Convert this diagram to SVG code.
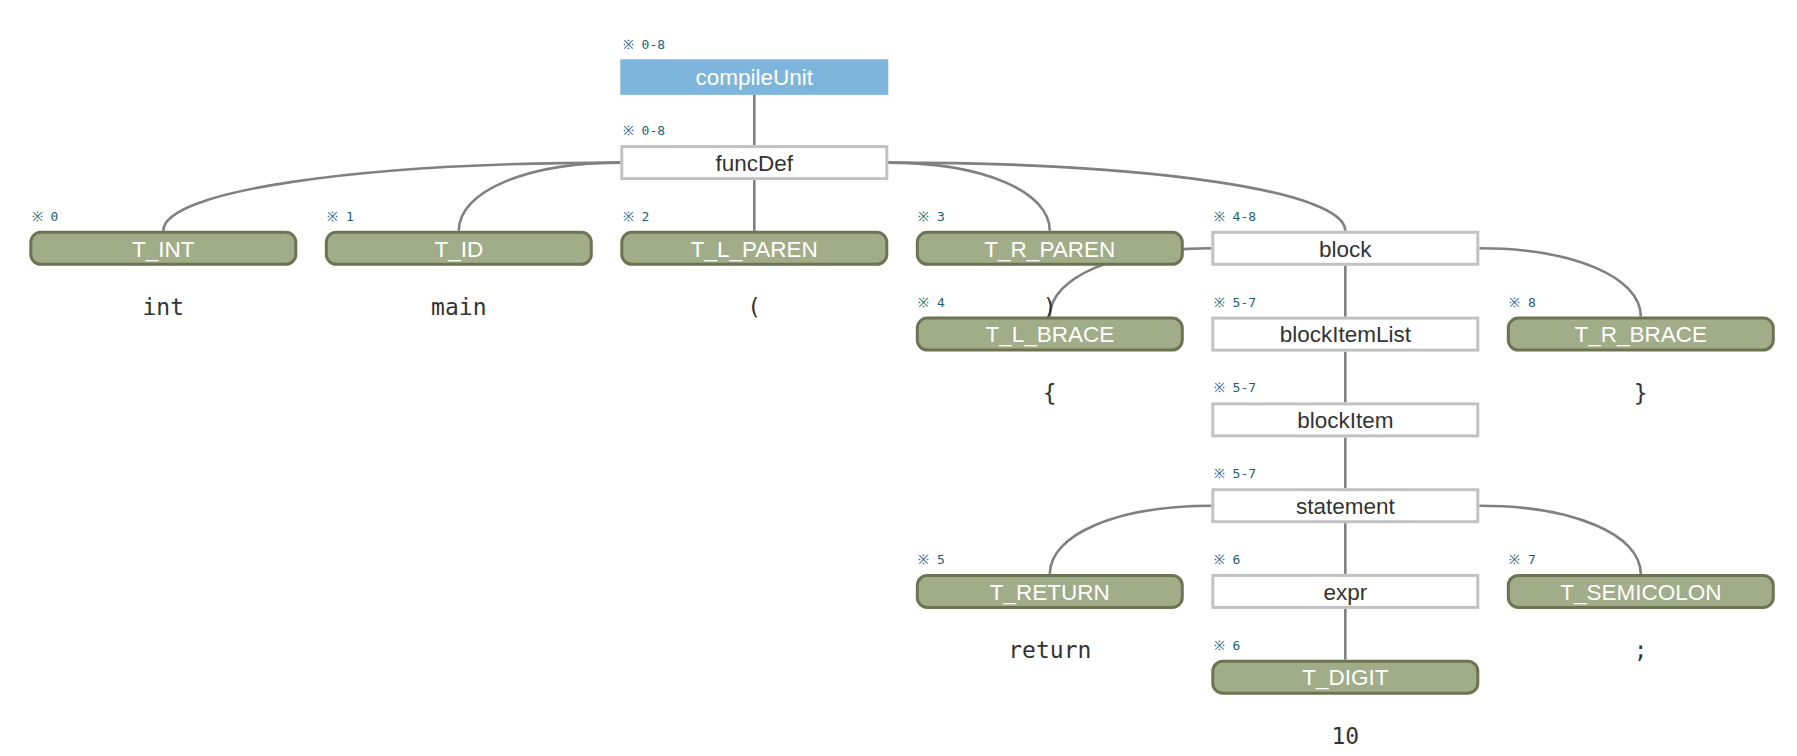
<svg xmlns="http://www.w3.org/2000/svg" width="1797" height="756" viewBox="0 0 1797 756">
<style>
.bg{fill:#ffffff}
.edge{fill:none;stroke:#808080;stroke-width:2.6}
.root rect{fill:#7db5dc}
.rule rect{fill:#ffffff;stroke:#c2c2c2;stroke-width:3}
.tok rect{fill:#a1ac89;stroke:#6e7353;stroke-width:3}
.lbl{font-family:"Liberation Sans",Arial,sans-serif;font-size:22.5px;text-anchor:middle}
.root .lbl,.tok .lbl{fill:#ffffff}
.rule .lbl{fill:#333333}
.rng{font-family:"DejaVu Sans Mono","Liberation Mono",monospace;font-size:13px;fill:#1d5e7b}
.leaf{font-family:"DejaVu Sans Mono","Liberation Mono",monospace;font-size:23px;fill:#333333;text-anchor:middle}
</style>
<rect class="bg" x="0" y="0" width="1797" height="756"/>
<g id="connectors">
<path class="edge" d="M754.3 94.8 V145.1"/>
<path class="edge" d="M620.3 162.6 C355.2 162.6 163.3 191.2 163.3 230.8"/>
<path class="edge" d="M620.3 162.6 C526.6 162.6 458.8 191.2 458.8 230.8"/>
<path class="edge" d="M754.3 180.1 V230.8"/>
<path class="edge" d="M888.3 162.6 C982 162.6 1049.8 191.2 1049.8 230.8"/>
<path class="edge" d="M888.3 162.6 C1153.4 162.6 1345.3 191.2 1345.3 230.8"/>
<path class="edge" d="M1211.3 248.3 C1117.6 248.3 1049.8 277 1049.8 316.6"/>
<path class="edge" d="M1345.3 265.8 V316.6"/>
<path class="edge" d="M1479.3 248.3 C1573 248.3 1640.8 277 1640.8 316.6"/>
<path class="edge" d="M1345.3 351.6 V402.4"/>
<path class="edge" d="M1345.3 437.4 V488.2"/>
<path class="edge" d="M1211.3 505.7 C1117.6 505.7 1049.8 534.3 1049.8 573.9"/>
<path class="edge" d="M1345.3 523.2 V573.9"/>
<path class="edge" d="M1479.3 505.7 C1573 505.7 1640.8 534.3 1640.8 573.9"/>
<path class="edge" d="M1345.3 608.9 V659.7"/>
</g>
<g id="leaves">
<text class="leaf" x="163.3" y="314.8">int</text>
<text class="leaf" x="458.8" y="314.8">main</text>
<text class="leaf" x="754.3" y="314.8">(</text>
<text class="leaf" x="1049.8" y="314.8">)</text>
<text class="leaf" x="1049.8" y="400.6">{</text>
<text class="leaf" x="1640.8" y="400.6">}</text>
<text class="leaf" x="1049.8" y="657.9">return</text>
<text class="leaf" x="1640.8" y="657.9">;</text>
<text class="leaf" x="1345.3" y="743.7">10</text>
</g>
<g id="n-compileUnit" class="root">
<text class="rng" x="622.8" y="49.3">※ 0-8</text>
<rect x="620.3" y="59.3" width="268" height="35.5"/>
<text class="lbl" x="754.3" y="84.8">compileUnit</text>
</g>
<g id="n-funcDef" class="rule">
<text class="rng" x="622.8" y="135.1">※ 0-8</text>
<rect x="621.8" y="146.6" width="265" height="32"/>
<text class="lbl" x="754.3" y="170.7">funcDef</text>
</g>
<g id="n-T_INT" class="tok">
<text class="rng" x="31.8" y="220.8">※ 0</text>
<rect x="30.8" y="232.3" width="265" height="32" rx="10"/>
<text class="lbl" x="163.3" y="256.5">T_INT</text>
</g>
<g id="n-T_ID" class="tok">
<text class="rng" x="327.3" y="220.8">※ 1</text>
<rect x="326.3" y="232.3" width="265" height="32" rx="10"/>
<text class="lbl" x="458.8" y="256.5">T_ID</text>
</g>
<g id="n-T_L_PAREN" class="tok">
<text class="rng" x="622.8" y="220.8">※ 2</text>
<rect x="621.8" y="232.3" width="265" height="32" rx="10"/>
<text class="lbl" x="754.3" y="256.5">T_L_PAREN</text>
</g>
<g id="n-T_R_PAREN" class="tok">
<text class="rng" x="918.3" y="220.8">※ 3</text>
<rect x="917.3" y="232.3" width="265" height="32" rx="10"/>
<text class="lbl" x="1049.8" y="256.5">T_R_PAREN</text>
</g>
<g id="n-block" class="rule">
<text class="rng" x="1213.8" y="220.8">※ 4-8</text>
<rect x="1212.8" y="232.3" width="265" height="32"/>
<text class="lbl" x="1345.3" y="256.5">block</text>
</g>
<g id="n-T_L_BRACE" class="tok">
<text class="rng" x="918.3" y="306.6">※ 4</text>
<rect x="917.3" y="318.1" width="265" height="32" rx="10"/>
<text class="lbl" x="1049.8" y="342.3">T_L_BRACE</text>
</g>
<g id="n-blockItemList" class="rule">
<text class="rng" x="1213.8" y="306.6">※ 5-7</text>
<rect x="1212.8" y="318.1" width="265" height="32"/>
<text class="lbl" x="1345.3" y="342.3">blockItemList</text>
</g>
<g id="n-T_R_BRACE" class="tok">
<text class="rng" x="1509.3" y="306.6">※ 8</text>
<rect x="1508.3" y="318.1" width="265" height="32" rx="10"/>
<text class="lbl" x="1640.8" y="342.3">T_R_BRACE</text>
</g>
<g id="n-blockItem" class="rule">
<text class="rng" x="1213.8" y="392.4">※ 5-7</text>
<rect x="1212.8" y="403.9" width="265" height="32"/>
<text class="lbl" x="1345.3" y="428.1">blockItem</text>
</g>
<g id="n-statement" class="rule">
<text class="rng" x="1213.8" y="478.2">※ 5-7</text>
<rect x="1212.8" y="489.7" width="265" height="32"/>
<text class="lbl" x="1345.3" y="513.9">statement</text>
</g>
<g id="n-T_RETURN" class="tok">
<text class="rng" x="918.3" y="563.9">※ 5</text>
<rect x="917.3" y="575.4" width="265" height="32" rx="10"/>
<text class="lbl" x="1049.8" y="599.6">T_RETURN</text>
</g>
<g id="n-expr" class="rule">
<text class="rng" x="1213.8" y="563.9">※ 6</text>
<rect x="1212.8" y="575.4" width="265" height="32"/>
<text class="lbl" x="1345.3" y="599.6">expr</text>
</g>
<g id="n-T_SEMICOLON" class="tok">
<text class="rng" x="1509.3" y="563.9">※ 7</text>
<rect x="1508.3" y="575.4" width="265" height="32" rx="10"/>
<text class="lbl" x="1640.8" y="599.6">T_SEMICOLON</text>
</g>
<g id="n-T_DIGIT" class="tok">
<text class="rng" x="1213.8" y="649.7">※ 6</text>
<rect x="1212.8" y="661.2" width="265" height="32" rx="10"/>
<text class="lbl" x="1345.3" y="685.4">T_DIGIT</text>
</g>
</svg>
